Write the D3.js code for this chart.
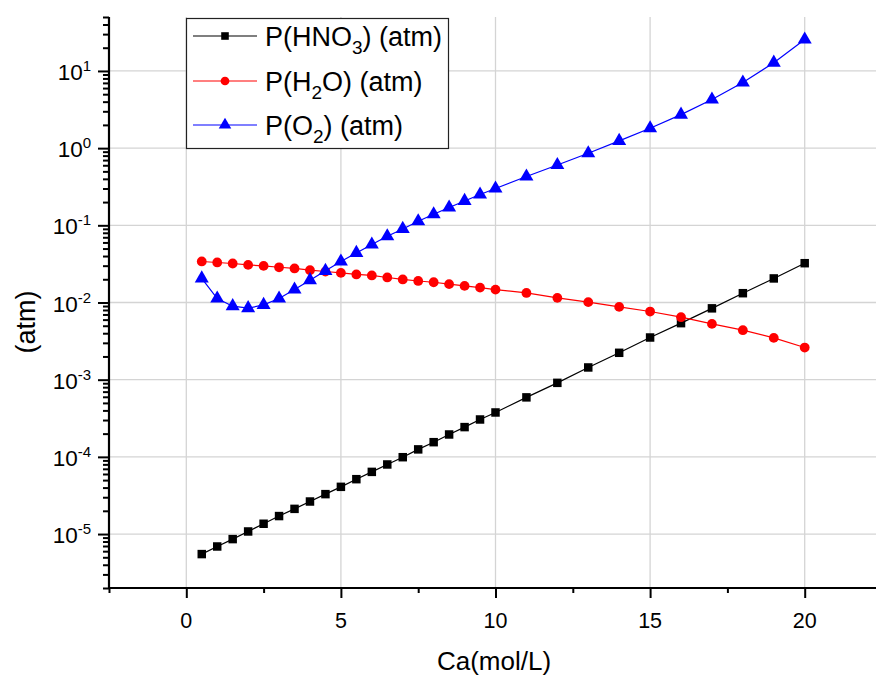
<!DOCTYPE html>
<html><head><meta charset="utf-8">
<script src="https://cdn.jsdelivr.net/npm/d3@7/dist/d3.min.js"></script>
<style>
html,body{margin:0;padding:0;background:#fff;}
text{font-family:"Liberation Sans",Arial,sans-serif;fill:#000;}
</style></head><body>
<svg id="chart" width="876" height="675"></svg>
<script>
// ---- data ----
const xHNO3 = [0.5,1,1.5,2,2.5,3,3.5,4,4.5,5,5.5,6,6.5,7,7.5,8,8.5,9,9.5,10,11,12,13,14,15,16,17,18,19,20];
const pHNO3 = [5.5e-6,6.9e-6,8.6e-6,1.08e-5,1.36e-5,1.71e-5,2.12e-5,2.64e-5,3.29e-5,4.09e-5,5.14e-5,6.39e-5,7.97e-5,9.9e-5,1.25e-4,1.55e-4,1.95e-4,2.43e-4,3.05e-4,3.76e-4,5.9e-4,9.1e-4,1.44e-3,2.23e-3,3.52e-3,5.4e-3,8.4e-3,1.32e-2,2.05e-2,3.23e-2];
const xH2O = xHNO3;
const pH2O = [0.0340,0.0330,0.0320,0.0307,0.0298,0.0286,0.0276,0.0262,0.0252,0.0242,0.0231,0.0224,0.0211,0.0199,0.0190,0.0183,0.0173,0.0164,0.0156,0.0147,0.0133,0.01148,0.0101,0.00877,0.00764,0.00645,0.00528,0.00438,0.00348,0.00261];
const xO2 = xHNO3;
const pO2 = [0.0205,0.01127,0.00896,0.00844,0.00931,0.01127,0.01473,0.01945,0.0257,0.0340,0.0439,0.0564,0.0722,0.0898,0.113,0.139,0.170,0.207,0.251,0.300,0.4285,0.605,0.859,1.24,1.81,2.72,4.26,7.08,12.8,25.5];
const seriesNames = [["P(HNO","3",") (atm)"],["P(H","2","O) (atm)"],["P(O","2",") (atm)"]];
const xTicks = [0,5,10,15,20];
const xMinorTicks = [-2.5,2.5,7.5,12.5,17.5,22.5];
const yExponents = [-5,-4,-3,-2,-1,0,1];
const xTitle = "Ca(mol/L)";
const yTitle = "(atm)";

// ---- layout ----
const svg = d3.select("#chart");
const L = 109, R = 882, T = 17, B = 588;
const x = d3.scaleLinear().domain([-2.5,22.5]).range([L,R]);
const y = d3.scaleLog().domain([2e-6,50]).range([B,T]);

// grid
const grid = svg.append("g").attr("stroke","#d4d4d4").attr("stroke-width",1.3);
xTicks.forEach(v=>grid.append("line").attr("x1",x(v)).attr("x2",x(v)).attr("y1",T).attr("y2",B));
yExponents.forEach(e=>grid.append("line").attr("x1",L).attr("x2",876).attr("y1",y(Math.pow(10,e))).attr("y2",y(Math.pow(10,e))));

// minor y ticks
const minorY = [];
for(let e=-6;e<=1;e++){for(let m=2;m<=9;m++){const v=m*Math.pow(10,e); if(v>=2e-6&&v<=50.0001) minorY.push(v);}}

const yAxisMinor = svg.append("g").attr("transform",`translate(${L},0)`)
  .call(d3.axisLeft(y).tickValues(minorY).tickSize(6).tickFormat(""));
const yAxisMajor = svg.append("g").attr("transform",`translate(${L},0)`)
  .call(d3.axisLeft(y).tickValues(yExponents.map(e=>Math.pow(10,e))).tickSize(11).tickFormat(""));
[yAxisMinor,yAxisMajor].forEach(g=>{g.selectAll("line").attr("stroke","#000").attr("stroke-width",2); g.select(".domain").remove();});

const xAxisMinor = svg.append("g").attr("transform",`translate(0,${B})`)
  .call(d3.axisBottom(x).tickValues(xMinorTicks).tickSize(5).tickFormat(""));
const xAxisMajor = svg.append("g").attr("transform",`translate(0,${B})`)
  .call(d3.axisBottom(x).tickValues(xTicks).tickSize(10).tickFormat(""));
[xAxisMinor,xAxisMajor].forEach(g=>{g.selectAll("line").attr("stroke","#000").attr("stroke-width",2); g.select(".domain").remove();});

// axis lines
svg.append("line").attr("x1",L).attr("x2",L).attr("y1",T).attr("y2",B+1).attr("stroke","#000").attr("stroke-width",2.2);
svg.append("line").attr("x1",L-1).attr("x2",876).attr("y1",B).attr("y2",B).attr("stroke","#000").attr("stroke-width",2.2);

// y tick labels
yExponents.forEach(e=>{
  const t = svg.append("text").attr("x",L-18).attr("y",y(Math.pow(10,e))+9).attr("text-anchor","end").attr("font-size",22.5);
  t.append("tspan").text("10");
  t.append("tspan").attr("font-size",15).attr("dy",-9).text(String(e));
});
// x tick labels
xTicks.forEach(v=>{
  svg.append("text").attr("x",x(v)).attr("y",628).attr("text-anchor","middle").attr("font-size",21.5).text(v);
});

// titles
svg.append("text").attr("x",494).attr("y",670).attr("text-anchor","middle").attr("font-size",26).text(xTitle);
svg.append("text").attr("transform","translate(35,322) rotate(-90)").attr("text-anchor","middle").attr("font-size",27).text(yTitle);

// series
const colors = ["#000000","#ff0000","#0000ff"];
const sets = [[xHNO3,pHNO3],[xH2O,pH2O],[xO2,pO2]];
const line = d3.line().x(d=>x(d[0])).y(d=>y(d[1]));
const sym = [d3.symbolSquare, d3.symbolCircle, d3.symbolTriangle];
const symSize = [72, 75, 85];
sets.forEach((s,i)=>{
  const pts = s[0].map((v,k)=>[v,s[1][k]]);
  svg.append("path").datum(pts).attr("d",line).attr("fill","none").attr("stroke",colors[i]).attr("stroke-width",1.2);
  svg.append("g").selectAll("path").data(pts).join("path")
    .attr("transform",d=>`translate(${x(d[0])},${y(d[1])})`)
    .attr("d",d3.symbol().type(sym[i]).size(symSize[i]))
    .attr("fill",colors[i]);
});

// legend
const lg = svg.append("g");
lg.append("rect").attr("x",186.5).attr("y",18.5).attr("width",262).attr("height",130).attr("fill","#fff").attr("stroke","#222").attr("stroke-width",1.2);
const rowY = [36,81,125];
seriesNames.forEach((n,i)=>{
  lg.append("line").attr("x1",193).attr("x2",257).attr("y1",rowY[i]).attr("y2",rowY[i]).attr("stroke",colors[i]).attr("stroke-width",1.2);
  lg.append("path").attr("transform",`translate(225,${rowY[i]})`).attr("d",d3.symbol().type(sym[i]).size(symSize[i]*0.8)).attr("fill",colors[i]);
  const t = lg.append("text").attr("x",265).attr("y",rowY[i]+10).attr("font-size",27);
  t.append("tspan").text(n[0]);
  t.append("tspan").attr("font-size",19).attr("dy",8).text(n[1]);
  t.append("tspan").attr("dy",-8).text(n[2]);
});
</script>
</body></html>
